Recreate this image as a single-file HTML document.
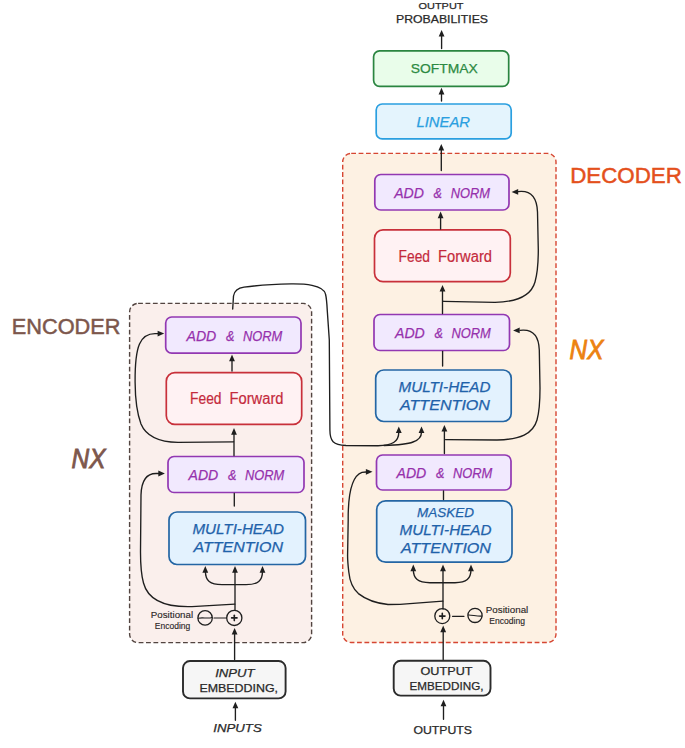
<!DOCTYPE html>
<html lang="en">
<head>
<meta charset="utf-8">
<title>Transformer architecture</title>
<style>
html,body{margin:0;padding:0;background:#fff;}
body{width:685px;height:748px;overflow:hidden;}
svg{display:block;}
svg text{font-family:"Liberation Sans","DejaVu Sans",sans-serif;}
</style>
</head>
<body>
<svg width="685" height="748" viewBox="0 0 685 748">
<rect width="685" height="748" fill="#ffffff"/>
<rect x="342.7" y="153.4" width="213.3" height="489.1" rx="8.5" ry="8.5" fill="#fdf1e3" stroke="#d64632" stroke-width="1.4" stroke-dasharray="4.8 2.6"/>
<rect x="129.6" y="303.4" width="182.0" height="339.2" rx="8.5" ry="8.5" fill="#faefec" stroke="#524440" stroke-width="1.4" stroke-dasharray="4.8 2.6"/>
<rect x="373.6" y="50.8" width="135.1" height="35.5" rx="6" ry="6" fill="#e9fdea" stroke="#2a8540" stroke-width="1.7"/>
<rect x="376.2" y="104" width="135.0" height="34.9" rx="6" ry="6" fill="#e4f4fd" stroke="#2a9fe0" stroke-width="1.7"/>
<rect x="374.8" y="174.5" width="134.2" height="35.5" rx="6" ry="6" fill="#f1e9fe" stroke="#9238b2" stroke-width="1.7"/>
<rect x="374.5" y="229.8" width="135.8" height="51.8" rx="8.5" ry="8.5" fill="#fff2f3" stroke="#c8303a" stroke-width="1.7"/>
<rect x="374" y="314.5" width="135.5" height="36.0" rx="6" ry="6" fill="#f1e9fe" stroke="#9238b2" stroke-width="1.7"/>
<rect x="375.7" y="370" width="135.5" height="51.5" rx="8" ry="8" fill="#e3f2fe" stroke="#2466a4" stroke-width="1.7"/>
<rect x="376.5" y="455" width="134.5" height="35.0" rx="6" ry="6" fill="#f1e9fe" stroke="#9238b2" stroke-width="1.7"/>
<rect x="376.7" y="500.8" width="135.3" height="61.4" rx="9" ry="9" fill="#e3f2fe" stroke="#2466a4" stroke-width="1.7"/>
<rect x="393.7" y="660.8" width="96.8" height="34.8" rx="7" ry="7" fill="#f6f6f6" stroke="#2b2b2b" stroke-width="1.9"/>
<rect x="165.7" y="317" width="135.3" height="36.2" rx="6" ry="6" fill="#f1e9fe" stroke="#9238b2" stroke-width="1.7"/>
<rect x="166.3" y="372.7" width="135.4" height="51.6" rx="8.5" ry="8.5" fill="#fff2f3" stroke="#c8303a" stroke-width="1.7"/>
<rect x="168" y="456.5" width="136.0" height="36.0" rx="6" ry="6" fill="#f1e9fe" stroke="#9238b2" stroke-width="1.7"/>
<rect x="169" y="512" width="136.5" height="52.5" rx="8" ry="8" fill="#e3f2fe" stroke="#2466a4" stroke-width="1.7"/>
<rect x="183" y="661" width="102.6" height="37.4" rx="7" ry="7" fill="#f6f6f6" stroke="#2b2b2b" stroke-width="1.9"/>
<text x="418.5" y="9" font-size="9.6" fill="#2a2a2a" font-weight="normal" font-style="normal" textLength="45.0" lengthAdjust="spacingAndGlyphs" stroke="#2a2a2a" stroke-width="0.25">OUTPUT</text>
<text x="396" y="22.9" font-size="10.6" fill="#2a2a2a" font-weight="normal" font-style="normal" textLength="92.0" lengthAdjust="spacingAndGlyphs" stroke="#2a2a2a" stroke-width="0.25">PROBABILITIES</text>
<text x="410.8" y="72.9" font-size="13.6" fill="#2c8a42" font-weight="normal" font-style="normal" textLength="67.0" lengthAdjust="spacingAndGlyphs" stroke="#2c8a42" stroke-width="0.25">SOFTMAX</text>
<text x="416.5" y="126.5" font-size="14" fill="#2a9fe0" font-weight="normal" font-style="italic" textLength="53.5" lengthAdjust="spacingAndGlyphs" stroke="#2a9fe0" stroke-width="0.25">LINEAR</text>
<text x="394.2" y="198.1" font-size="15.3" fill="#9630ac" font-weight="normal" font-style="italic" textLength="29.8" lengthAdjust="spacingAndGlyphs" stroke="#9630ac" stroke-width="0.25">ADD</text>
<text x="433.6" y="198.1" font-size="15.3" fill="#9630ac" font-weight="normal" font-style="italic" textLength="8.4" lengthAdjust="spacingAndGlyphs" stroke="#9630ac" stroke-width="0.25">&amp;</text>
<text x="450.7" y="198.1" font-size="15.3" fill="#9630ac" font-weight="normal" font-style="italic" textLength="39.3" lengthAdjust="spacingAndGlyphs" stroke="#9630ac" stroke-width="0.25">NORM</text>
<text x="398.5" y="261.5" font-size="16" fill="#c42a3c" font-weight="normal" font-style="normal" textLength="31.5" lengthAdjust="spacingAndGlyphs" stroke="#c42a3c" stroke-width="0.2">Feed</text>
<text x="438.0" y="261.5" font-size="16" fill="#c42a3c" font-weight="normal" font-style="normal" textLength="54.0" lengthAdjust="spacingAndGlyphs" stroke="#c42a3c" stroke-width="0.2">Forward</text>
<text x="395" y="338.2" font-size="15.3" fill="#9630ac" font-weight="normal" font-style="italic" textLength="29.8" lengthAdjust="spacingAndGlyphs" stroke="#9630ac" stroke-width="0.25">ADD</text>
<text x="434.4" y="338.2" font-size="15.3" fill="#9630ac" font-weight="normal" font-style="italic" textLength="8.4" lengthAdjust="spacingAndGlyphs" stroke="#9630ac" stroke-width="0.25">&amp;</text>
<text x="451.5" y="338.2" font-size="15.3" fill="#9630ac" font-weight="normal" font-style="italic" textLength="39.3" lengthAdjust="spacingAndGlyphs" stroke="#9630ac" stroke-width="0.25">NORM</text>
<text x="398.5" y="392.0" font-size="14.2" fill="#1f62aa" font-weight="normal" font-style="italic" textLength="92.0" lengthAdjust="spacingAndGlyphs" stroke="#1f62aa" stroke-width="0.25">MULTI-HEAD</text>
<text x="400" y="409.6" font-size="14.2" fill="#1f62aa" font-weight="normal" font-style="italic" textLength="90.0" lengthAdjust="spacingAndGlyphs" stroke="#1f62aa" stroke-width="0.25">ATTENTION</text>
<text x="396.5" y="478.1" font-size="15.3" fill="#9630ac" font-weight="normal" font-style="italic" textLength="29.8" lengthAdjust="spacingAndGlyphs" stroke="#9630ac" stroke-width="0.25">ADD</text>
<text x="435.9" y="478.1" font-size="15.3" fill="#9630ac" font-weight="normal" font-style="italic" textLength="8.4" lengthAdjust="spacingAndGlyphs" stroke="#9630ac" stroke-width="0.25">&amp;</text>
<text x="453.0" y="478.1" font-size="15.3" fill="#9630ac" font-weight="normal" font-style="italic" textLength="39.3" lengthAdjust="spacingAndGlyphs" stroke="#9630ac" stroke-width="0.25">NORM</text>
<text x="417" y="517.2" font-size="13.4" fill="#1f62aa" font-weight="normal" font-style="italic" textLength="57.0" lengthAdjust="spacingAndGlyphs" stroke="#1f62aa" stroke-width="0.25">MASKED</text>
<text x="399.5" y="535.1" font-size="14.2" fill="#1f62aa" font-weight="normal" font-style="italic" textLength="92.0" lengthAdjust="spacingAndGlyphs" stroke="#1f62aa" stroke-width="0.25">MULTI-HEAD</text>
<text x="401" y="553.4" font-size="14.2" fill="#1f62aa" font-weight="normal" font-style="italic" textLength="90.0" lengthAdjust="spacingAndGlyphs" stroke="#1f62aa" stroke-width="0.25">ATTENTION</text>
<text x="420.5" y="675.2" font-size="10.6" fill="#2a2a2a" font-weight="normal" font-style="normal" textLength="52.0" lengthAdjust="spacingAndGlyphs" stroke="#2a2a2a" stroke-width="0.25">OUTPUT</text>
<text x="409.5" y="690" font-size="10.8" fill="#2a2a2a" font-weight="normal" font-style="normal" textLength="74.0" lengthAdjust="spacingAndGlyphs" stroke="#2a2a2a" stroke-width="0.25">EMBEDDING,</text>
<text x="413.5" y="733.6" font-size="10.8" fill="#2a2a2a" font-weight="normal" font-style="normal" textLength="58.5" lengthAdjust="spacingAndGlyphs" stroke="#2a2a2a" stroke-width="0.25">OUTPUTS</text>
<text x="485.8" y="613.2" font-size="8.6" fill="#2a2626" font-weight="normal" font-style="normal" textLength="42.5" lengthAdjust="spacingAndGlyphs" stroke="#2a2626" stroke-width="0.12">Positional</text>
<text x="489.3" y="624" font-size="8.2" fill="#2a2626" font-weight="normal" font-style="normal" textLength="35.7" lengthAdjust="spacingAndGlyphs" stroke="#2a2626" stroke-width="0.12">Encoding</text>
<text x="570.2" y="182.5" font-size="22.5" fill="#e4501c" font-weight="normal" font-style="normal" textLength="111.6" lengthAdjust="spacingAndGlyphs" stroke="#e4501c" stroke-width="0.5">DECODER</text>
<text x="569.6" y="359" font-size="28" fill="#ec8210" font-weight="normal" font-style="italic" textLength="33.8" lengthAdjust="spacingAndGlyphs" stroke="#ec8210" stroke-width="0.9">NX</text>
<text x="186.5" y="340.5" font-size="15.3" fill="#9630ac" font-weight="normal" font-style="italic" textLength="29.8" lengthAdjust="spacingAndGlyphs" stroke="#9630ac" stroke-width="0.25">ADD</text>
<text x="225.9" y="340.5" font-size="15.3" fill="#9630ac" font-weight="normal" font-style="italic" textLength="8.4" lengthAdjust="spacingAndGlyphs" stroke="#9630ac" stroke-width="0.25">&amp;</text>
<text x="243.0" y="340.5" font-size="15.3" fill="#9630ac" font-weight="normal" font-style="italic" textLength="39.3" lengthAdjust="spacingAndGlyphs" stroke="#9630ac" stroke-width="0.25">NORM</text>
<text x="190" y="403.6" font-size="16" fill="#c42a3c" font-weight="normal" font-style="normal" textLength="31.5" lengthAdjust="spacingAndGlyphs" stroke="#c42a3c" stroke-width="0.2">Feed</text>
<text x="229.5" y="403.6" font-size="16" fill="#c42a3c" font-weight="normal" font-style="normal" textLength="54.0" lengthAdjust="spacingAndGlyphs" stroke="#c42a3c" stroke-width="0.2">Forward</text>
<text x="188.5" y="480.1" font-size="15.3" fill="#9630ac" font-weight="normal" font-style="italic" textLength="29.8" lengthAdjust="spacingAndGlyphs" stroke="#9630ac" stroke-width="0.25">ADD</text>
<text x="227.9" y="480.1" font-size="15.3" fill="#9630ac" font-weight="normal" font-style="italic" textLength="8.4" lengthAdjust="spacingAndGlyphs" stroke="#9630ac" stroke-width="0.25">&amp;</text>
<text x="245.0" y="480.1" font-size="15.3" fill="#9630ac" font-weight="normal" font-style="italic" textLength="39.3" lengthAdjust="spacingAndGlyphs" stroke="#9630ac" stroke-width="0.25">NORM</text>
<text x="192.5" y="533.5" font-size="14.0" fill="#1f62aa" font-weight="normal" font-style="italic" textLength="91.5" lengthAdjust="spacingAndGlyphs" stroke="#1f62aa" stroke-width="0.25">MULTI-HEAD</text>
<text x="193.5" y="551.5" font-size="14.0" fill="#1f62aa" font-weight="normal" font-style="italic" textLength="89.5" lengthAdjust="spacingAndGlyphs" stroke="#1f62aa" stroke-width="0.25">ATTENTION</text>
<text x="215.2" y="676.7" font-size="11.2" fill="#2a2a2a" font-weight="normal" font-style="italic" textLength="39.4" lengthAdjust="spacingAndGlyphs" stroke="#2a2a2a" stroke-width="0.25">INPUT</text>
<text x="199.4" y="691.9" font-size="10.8" fill="#2a2a2a" font-weight="normal" font-style="normal" textLength="78.6" lengthAdjust="spacingAndGlyphs" stroke="#2a2a2a" stroke-width="0.25">EMBEDDING,</text>
<text x="213.3" y="732.2" font-size="11.2" fill="#2a2a2a" font-weight="normal" font-style="italic" textLength="48.4" lengthAdjust="spacingAndGlyphs" stroke="#2a2a2a" stroke-width="0.25">INPUTS</text>
<text x="150.8" y="618" font-size="8.6" fill="#2a2626" font-weight="normal" font-style="normal" textLength="42.3" lengthAdjust="spacingAndGlyphs" stroke="#2a2626" stroke-width="0.12">Positional</text>
<text x="154.8" y="628.9" font-size="8.2" fill="#2a2626" font-weight="normal" font-style="normal" textLength="35.5" lengthAdjust="spacingAndGlyphs" stroke="#2a2626" stroke-width="0.12">Encoding</text>
<text x="11.8" y="333.8" font-size="22.5" fill="#7d574c" font-weight="normal" font-style="normal" textLength="108.7" lengthAdjust="spacingAndGlyphs" stroke="#7d574c" stroke-width="0.5">ENCODER</text>
<text x="71.6" y="468.3" font-size="28" fill="#7d574c" font-weight="normal" font-style="italic" textLength="33.9" lengthAdjust="spacingAndGlyphs" stroke="#7d574c" stroke-width="0.9">NX</text>
<path d="M441.6 48.5 L441.6 33.8" fill="none" stroke="#1e1e1e" stroke-width="1.35" stroke-linecap="round" stroke-linejoin="round"/>
<polygon points="441.6,29.9 438.7,36.5 444.5,36.5" fill="#1e1e1e"/>
<path d="M441.5 101 L441.5 91.7" fill="none" stroke="#1e1e1e" stroke-width="1.35" stroke-linecap="round" stroke-linejoin="round"/>
<polygon points="441.5,87.8 438.6,94.4 444.4,94.4" fill="#1e1e1e"/>
<path d="M441.3 170.5 L441.3 147.8" fill="none" stroke="#1e1e1e" stroke-width="1.35" stroke-linecap="round" stroke-linejoin="round"/>
<polygon points="441.3,143.9 438.4,150.5 444.2,150.5" fill="#1e1e1e"/>
<path d="M440.6 229 L440.6 215.5" fill="none" stroke="#1e1e1e" stroke-width="1.35" stroke-linecap="round" stroke-linejoin="round"/>
<polygon points="440.6,211.6 437.7,218.2 443.5,218.2" fill="#1e1e1e"/>
<path d="M442.5 313.5 L442.5 288.8" fill="none" stroke="#1e1e1e" stroke-width="1.35" stroke-linecap="round" stroke-linejoin="round"/>
<polygon points="442.5,284.9 439.6,291.5 445.4,291.5" fill="#1e1e1e"/>
<path d="M442.6 366 L442.6 351.5" fill="none" stroke="#1e1e1e" stroke-width="1.35" stroke-linecap="round" stroke-linejoin="round"/>
<path d="M444.4 453.5 L444.4 428.8" fill="none" stroke="#1e1e1e" stroke-width="1.35" stroke-linecap="round" stroke-linejoin="round"/>
<polygon points="444.4,424.9 441.5,431.5 447.3,431.5" fill="#1e1e1e"/>
<path d="M443.5 499.5 L443.5 491" fill="none" stroke="#1e1e1e" stroke-width="1.35" stroke-linecap="round" stroke-linejoin="round"/>
<path d="M443 609 L443 568.5" fill="none" stroke="#1e1e1e" stroke-width="1.35" stroke-linecap="round" stroke-linejoin="round"/>
<polygon points="443.0,564.6 440.1,571.2 445.9,571.2" fill="#1e1e1e"/>
<path d="M443.2 659.5 L443.2 629.5" fill="none" stroke="#1e1e1e" stroke-width="1.35" stroke-linecap="round" stroke-linejoin="round"/>
<polygon points="443.2,625.6 440.3,632.2 446.1,632.2" fill="#1e1e1e"/>
<path d="M443.5 719.3 L443.5 703.6" fill="none" stroke="#1e1e1e" stroke-width="1.35" stroke-linecap="round" stroke-linejoin="round"/>
<polygon points="443.5,699.7 440.6,706.3 446.4,706.3" fill="#1e1e1e"/>
<path d="M413.3 569 C413.3 579 418 582.7 430 582.7 L455 582.7 C466.5 582.7 471 579 471 569" fill="none" stroke="#1e1e1e" stroke-width="1.35" stroke-linecap="round" stroke-linejoin="round"/>
<polygon points="413.3,564.6 410.4,571.2 416.2,571.2" fill="#1e1e1e"/>
<polygon points="471.0,564.6 468.1,571.2 473.9,571.2" fill="#1e1e1e"/>
<path d="M443.5 301.3 L495 302.3 C518 302 531 296 535 282 C537.5 273 538.3 262 538.3 250 L537.5 212 C537 199 532 191.2 521 191.4 L518 191.6" fill="none" stroke="#1e1e1e" stroke-width="1.35" stroke-linecap="round" stroke-linejoin="round"/>
<polygon points="511.6,191.9 518.2,189.0 518.2,194.8" fill="#1e1e1e"/>
<path d="M445.5 439.6 L497 440 C520 439.6 533 434 537 420 C539.5 411 540 400 540 388 L539.3 350 C538.8 337 534 329.8 523 330.1 L520 330.3" fill="none" stroke="#1e1e1e" stroke-width="1.35" stroke-linecap="round" stroke-linejoin="round"/>
<polygon points="513.1,330.4 519.7,327.5 519.7,333.3" fill="#1e1e1e"/>
<path d="M442.8 601.2 L400 604.3 L388 604.5 C374 603 364 598 358.4 593.6 C352 588 349.6 580 348.8 572 C348 565 347.5 560 347.6 555 L348.2 520 C348 495 351 476 362 472.3 L366 472" fill="none" stroke="#1e1e1e" stroke-width="1.35" stroke-linecap="round" stroke-linejoin="round"/>
<polygon points="372.5,471.8 365.9,468.9 365.9,474.7" fill="#1e1e1e"/>
<circle cx="442.3" cy="616.1" r="7.5" fill="none" stroke="#1e1e1e" stroke-width="1.3"/>
<path d="M439.6 616.1 L445 616.1" fill="none" stroke="#1e1e1e" stroke-width="1.6" stroke-linecap="round" stroke-linejoin="round"/>
<path d="M442.3 613.4 L442.3 618.8" fill="none" stroke="#1e1e1e" stroke-width="1.6" stroke-linecap="round" stroke-linejoin="round"/>
<circle cx="475" cy="615.4" r="7.1" fill="none" stroke="#1e1e1e" stroke-width="1.3"/>
<path d="M468.2 615 C471 614.6 478 616.6 482 616" fill="none" stroke="#1e1e1e" stroke-width="1.1" stroke-linecap="round" stroke-linejoin="round"/>
<path d="M452.5 616.3 L464 616.3" fill="none" stroke="#1e1e1e" stroke-width="1.2" stroke-linecap="round" stroke-linejoin="round"/>
<path d="M232 371 L232 358.5" fill="none" stroke="#1e1e1e" stroke-width="1.35" stroke-linecap="round" stroke-linejoin="round"/>
<polygon points="232.0,354.6 229.1,361.2 234.9,361.2" fill="#1e1e1e"/>
<path d="M234 455.5 L234 432" fill="none" stroke="#1e1e1e" stroke-width="1.35" stroke-linecap="round" stroke-linejoin="round"/>
<polygon points="234.0,428.1 231.1,434.7 236.9,434.7" fill="#1e1e1e"/>
<path d="M234.3 506 L234.3 493.5" fill="none" stroke="#1e1e1e" stroke-width="1.35" stroke-linecap="round" stroke-linejoin="round"/>
<path d="M235 610 L235 570" fill="none" stroke="#1e1e1e" stroke-width="1.35" stroke-linecap="round" stroke-linejoin="round"/>
<polygon points="235.0,566.1 232.1,572.7 237.9,572.7" fill="#1e1e1e"/>
<path d="M234.6 659.5 L234.6 631.8" fill="none" stroke="#1e1e1e" stroke-width="1.35" stroke-linecap="round" stroke-linejoin="round"/>
<polygon points="234.6,627.9 231.7,634.5 237.5,634.5" fill="#1e1e1e"/>
<path d="M235.4 720.2 L235.4 705.6" fill="none" stroke="#1e1e1e" stroke-width="1.35" stroke-linecap="round" stroke-linejoin="round"/>
<polygon points="235.4,701.7 232.5,708.3 238.3,708.3" fill="#1e1e1e"/>
<path d="M205.4 571 C205.4 581 210 584.6 222 584.6 L246 584.6 C258 584.6 262.5 581 262.5 571" fill="none" stroke="#1e1e1e" stroke-width="1.35" stroke-linecap="round" stroke-linejoin="round"/>
<polygon points="205.3,566.1 202.4,572.7 208.2,572.7" fill="#1e1e1e"/>
<polygon points="262.5,566.1 259.6,572.7 265.4,572.7" fill="#1e1e1e"/>
<path d="M233.5 441.8 L178 442.4 C158 442 146 436 141 424 C136.5 412 135.2 398 135.1 382 C135 366 136 352 139.5 344 C143 336 148 333.6 155 333.6 L158 333.6" fill="none" stroke="#1e1e1e" stroke-width="1.35" stroke-linecap="round" stroke-linejoin="round"/>
<polygon points="164.2,333.6 157.6,330.7 157.6,336.5" fill="#1e1e1e"/>
<path d="M234.8 604.2 L192 606.6 C166 607.4 148 600 143.5 583 C141 574 140.5 563 140.5 552 L141 495 C141.4 481 146 473.5 156 473.5 L159 473.5" fill="none" stroke="#1e1e1e" stroke-width="1.35" stroke-linecap="round" stroke-linejoin="round"/>
<polygon points="164.9,473.5 158.3,470.6 158.3,476.4" fill="#1e1e1e"/>
<circle cx="234.3" cy="617.9" r="7.6" fill="none" stroke="#1e1e1e" stroke-width="1.3"/>
<path d="M231.6 617.9 L237 617.9" fill="none" stroke="#1e1e1e" stroke-width="1.6" stroke-linecap="round" stroke-linejoin="round"/>
<path d="M234.3 615.2 L234.3 620.6" fill="none" stroke="#1e1e1e" stroke-width="1.6" stroke-linecap="round" stroke-linejoin="round"/>
<circle cx="205.1" cy="617.9" r="7.2" fill="none" stroke="#1e1e1e" stroke-width="1.3"/>
<path d="M198.3 618.3 C202 617 208 619 212 617.5" fill="none" stroke="#1e1e1e" stroke-width="1.1" stroke-linecap="round" stroke-linejoin="round"/>
<path d="M214 618 L226.3 618" fill="none" stroke="#1e1e1e" stroke-width="1.2" stroke-linecap="round" stroke-linejoin="round"/>
<path d="M232.7 309 L233.5 296 C234.5 290 238 288 244 287.2 C260 285 275 284.2 291 283.9 C300 283.8 307 284.3 312 285.3 C320 287 324.5 289.5 325.5 294 C326.5 298 327 305 327.3 311 L329.3 340 L329.9 430 C330 441 333 445 346 445.5 L378 445.7 C392 445.5 398.8 442 398.8 432" fill="none" stroke="#1e1e1e" stroke-width="1.35" stroke-linecap="round" stroke-linejoin="round"/>
<path d="M384 445.5 C400 445 408 444 413 442 C419 440 421.5 437 421.5 432" fill="none" stroke="#1e1e1e" stroke-width="1.35" stroke-linecap="round" stroke-linejoin="round"/>
<polygon points="398.8,426.4 395.9,433.0 401.7,433.0" fill="#1e1e1e"/>
<polygon points="421.5,426.4 418.6,433.0 424.4,433.0" fill="#1e1e1e"/>
</svg>
</body>
</html>
